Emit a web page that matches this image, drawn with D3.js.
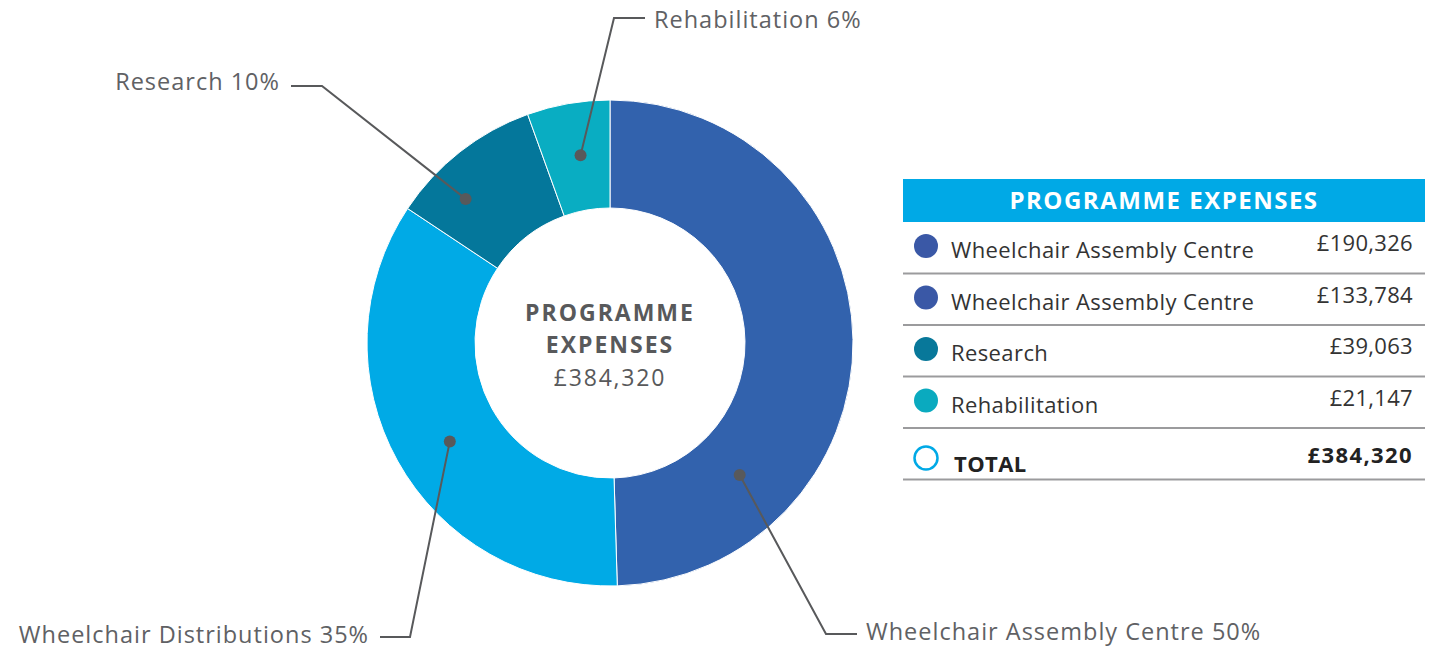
<!DOCTYPE html>
<html>
<head>
<meta charset="utf-8">
<script src="https://cdn.jsdelivr.net/npm/d3@7"></script>
<style>
  body { margin: 0; background: #fff; }
  svg { display: block; font-family: "Open Sans", sans-serif; }
</style>
</head>
<body>
<svg id="chart" width="1450" height="651"></svg>
<script>
// slices of the donut
const sliceNames = ["Wheelchair Assembly Centre", "Wheelchair Distributions", "Research", "Rehabilitation"];
const sliceValues = [190326, 133784, 39063, 21147];
const sliceColors = ["#3262ad", "#00aae6", "#04779b", "#09adc2"];

// table on the right (as printed)
const tableTitle = "PROGRAMME EXPENSES";
const tableNames = ["Wheelchair Assembly Centre", "Wheelchair Assembly Centre", "Research", "Rehabilitation"];
const tableColors = ["#3a58a6", "#3a58a6", "#08789a", "#0aaabf"];
const totalLabel = "TOTAL";
const centreTitle = ["PROGRAMME", "EXPENSES"];

document.addEventListener("DOMContentLoaded", function() {
    const svg = d3.select("#chart");
    const cx = 610, cy = 343, rIn = 135, rOut = 243;
    const total = d3.sum(sliceValues);
    const money = v => "£" + d3.format(",")(v);

    const data = sliceNames.map((n, i) => ({ name: n, value: sliceValues[i], color: sliceColors[i] }));
    const pie = d3.pie().sort(null).value(d => d.value);
    const arc = d3.arc().innerRadius(rIn).outerRadius(rOut);
    const arcs = pie(data);

    const g = svg.append("g").attr("transform", `translate(${cx},${cy})`);
    g.selectAll("path").data(arcs).join("path")
        .attr("d", arc).attr("fill", d => d.data.color)
        .attr("stroke", "#fff").attr("stroke-width", 1);

    // centre text
    g.selectAll(".ct").data(centreTitle).join("text")
        .attr("text-anchor", "middle").attr("y", (d, i) => -22 + i * 32)
        .attr("fill", "#58595b").style("font-weight", 700).style("font-size", "23px").style("letter-spacing", "2px")
        .text(d => d);
    g.append("text").attr("text-anchor", "middle").attr("y", 43)
        .attr("fill", "#58595b").style("font-size", "23px").style("letter-spacing", "1.8px").text(money(total));

    // leader lines: where along each slice the dot sits, and where the label goes
    const leaders = [
        { frac: 0.76, r: 185, elbow: [826, 634], end: [857, 634], anchor: "start", ty: 640 },
        { frac: 0.48, r: 188, elbow: [410, 637], end: [380, 637], anchor: "end", ty: 643 },
        { frac: 0.31, r: 204, elbow: [322, 86], end: [291, 86], anchor: "end", ty: 90 },
        { frac: 0.55, r: 190, elbow: [614, 18], end: [645, 18], anchor: "start", ty: 28 }
    ];

    arcs.forEach((a, i) => {
        const L = leaders[i];
        const ang = a.startAngle + (a.endAngle - a.startAngle) * L.frac;
        const px = cx + L.r * Math.sin(ang), py = cy - L.r * Math.cos(ang);
        svg.append("path")
            .attr("d", d3.line()([[px, py], L.elbow, L.end]))
            .attr("fill", "none").attr("stroke", "#58595b").attr("stroke-width", 2);
        svg.append("circle").attr("cx", px).attr("cy", py).attr("r", 6).attr("fill", "#58595b");
        const pct = Math.round(a.data.value / total * 100);
        svg.append("text")
            .attr("x", L.anchor === "start" ? L.end[0] + 9 : L.end[0] - 11)
            .attr("y", L.ty)
            .attr("text-anchor", L.anchor)
            .attr("fill", "#606164").style("font-size", "23.5px").style("letter-spacing", "1px")
            .text(`${a.data.name} ${pct}%`);
    });

    // table
    const tx0 = 903, tx1 = 1425, headTop = 179, headH = 43, rowH = 51.5;
    const t = svg.append("g");
    t.append("rect").attr("x", tx0).attr("y", headTop).attr("width", tx1 - tx0).attr("height", headH).attr("fill", "#00a9e6");
    t.append("text").attr("x", (tx0 + tx1) / 2).attr("y", headTop + 30).attr("text-anchor", "middle")
        .attr("fill", "#fff").style("font-weight", 700).style("font-size", "24px").style("letter-spacing", "1.5px")
        .text(tableTitle);

    const rows = tableNames.map((n, i) => ({ name: n, value: sliceValues[i], color: tableColors[i], total: false }));
    rows.push({ name: totalLabel, value: total, color: null, total: true });

    const rowG = t.selectAll(".row").data(rows).join("g")
        .attr("transform", (d, i) => `translate(0,${headTop + headH + i * rowH})`);
    rowG.append("circle").attr("cx", tx0 + 23).attr("cy", d => d.total ? 30 : 24).attr("r", d => d.total ? 11.5 : 12)
        .attr("fill", d => d.total ? "#fff" : d.color)
        .attr("stroke", d => d.total ? "#00a9e6" : "none").attr("stroke-width", 2.5);
    rowG.append("text").attr("x", d => d.total ? tx0 + 51 : tx0 + 48).attr("y", d => d.total ? 44 : 36)
        .attr("fill", d => d.total ? "#222" : "#333")
        .style("font-weight", d => d.total ? 700 : 400).style("font-size", "22px").style("letter-spacing", "0.4px")
        .text(d => d.name);
    rowG.append("text").attr("x", tx1 - 12).attr("y", d => d.total ? 35 : 29).attr("text-anchor", "end")
        .attr("fill", d => d.total ? "#222" : "#333")
        .style("font-weight", d => d.total ? 700 : 400).style("font-size", "22px")
        .style("letter-spacing", d => d.total ? "1.4px" : "0.3px")
        .text(d => money(d.value));
    rowG.append("line").attr("x1", tx0).attr("x2", tx1).attr("y1", rowH).attr("y2", rowH)
        .attr("stroke", "#9b9b9d").attr("stroke-width", 2);
});
</script>
</body>
</html>
